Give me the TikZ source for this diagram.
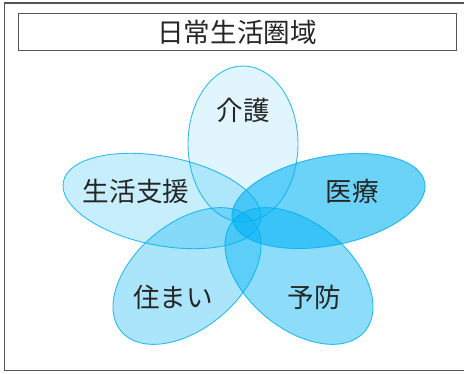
\documentclass[tikz,border=0pt]{standalone}
\usepackage{fontspec}
\newfontfamily\cjk{Noto Sans CJK JP}
\definecolor{petalline}{HTML}{00AEEF}
\definecolor{petalfill}{HTML}{00B2F4}
\definecolor{framegray}{HTML}{555555}
\tikzset{
  frameline/.style={draw=framegray,line width=1pt},
  titlebox/.style={draw=framegray,line width=0.8pt,inner sep=0pt,minimum width=438,minimum height=37},
  petal/.style={draw=petalline,line width=0.9pt,fill=petalfill},
  lab/.style={font=\cjk\fontsize{26.6}{26.6}\selectfont,text=black!85,inner sep=0pt},
}
\begin{document}
\begin{tikzpicture}[x=1pt,y=-1pt]
\useasboundingbox (0,0) rectangle (464,374);
\fill[white] (0,0) rectangle (464,374);
\draw[frameline] (464,371) -- (4,371) -- (4,3);
\draw[frameline,line width=1.7pt] (3.5,2.7) -- (464,2.7);
\node[titlebox,lab] (title) at (237,32) {日常生活圏域};
\draw[petal,fill opacity=.12,draw opacity=.8] (243,144) ellipse[x radius=55,y radius=78];
\draw[petal,fill opacity=.22,draw opacity=.8,rotate around={-11:(162,201)}] (162,201) ellipse[x radius=100.5,y radius=44.5];
\draw[petal,fill opacity=.58,draw opacity=.8,rotate around={11:(328.5,201)}] (328.5,201) ellipse[x radius=98,y radius=44.5];
\draw[petal,fill opacity=.33,draw opacity=.8,rotate around={40:(187,276)}] (187,276) ellipse[x radius=86,y radius=52.5];
\draw[petal,fill opacity=.45,draw opacity=.8,rotate around={-40:(299,276)}] (299,276) ellipse[x radius=86,y radius=52.5];
\node[lab] (a) at (243,110) {介護};
\node[lab] (b) at (136,191) {生活支援};
\node[lab] (c) at (352,191) {医療};
\node[lab] (d) at (173,297) {住まい};
\node[lab] (e) at (314,297) {予防};
\end{tikzpicture}
\end{document}
